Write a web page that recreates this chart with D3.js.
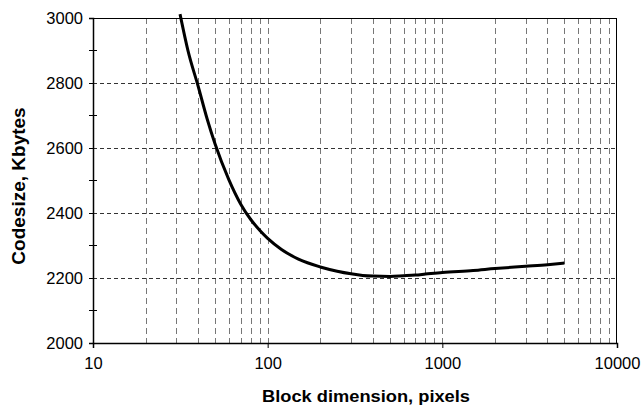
<!DOCTYPE html>
<html>
<head>
<meta charset="utf-8">
<script src="https://cdn.jsdelivr.net/npm/d3@7"></script>
<style>
  body { margin: 0; background: #fff; }
  svg text { font-family: "Liberation Sans", Arial, sans-serif; }
</style>
</head>
<body>
<script>
// block dimension (pixels) and codesize (Kbytes)
const blockDims = [31.5, 35, 40, 45, 50, 60, 70, 80, 90, 100, 120, 150, 200, 250, 300, 350, 400, 500, 600, 700, 800, 1000, 1500, 2000, 3000, 4000, 5000];
const codeSizes = [3012, 2899, 2790, 2690, 2612, 2502, 2428, 2380, 2347, 2322, 2288, 2258, 2234, 2221, 2213, 2208, 2206, 2205, 2207, 2209, 2212, 2217, 2223, 2229, 2236, 2241, 2246];

const yTicks = [2000, 2200, 2400, 2600, 2800, 3000];
const yMinorTicks = [2100, 2300, 2500, 2700, 2900];
const xTicks = [10, 100, 1000, 10000];
const yGrid = [2200, 2400, 2600, 2800];

const W = 644, H = 405;
const margin = {top: 18, right: 27, bottom: 62, left: 93};
const width = W - margin.left - margin.right,
      height = H - margin.top - margin.bottom;

const svg = d3.select("body").append("svg")
    .attr("width", W)
    .attr("height", H);

const g = svg.append("g")
    .attr("transform", `translate(${margin.left}, ${margin.top})`);

const x = d3.scaleLog().domain([10, 10000]).range([0, width]);
const y = d3.scaleLinear().domain([2000, 3000]).range([height, 0]);

// vertical grid at every minor decade step
const xGrid = [];
for (let d = 10; d < 10000; d *= 10) {
  for (let k = 2; k <= 10; k++) xGrid.push(d * k);
}
g.selectAll(".vgrid")
  .data(xGrid.filter(v => v < 10000))
  .enter().append("line")
    .attr("class", "vgrid")
    .attr("x1", d => Math.round(x(d)) + 0.5)
    .attr("x2", d => Math.round(x(d)) + 0.5)
    .attr("y1", 0)
    .attr("y2", height)
    .attr("stroke", "#777")
    .attr("stroke-width", 1)
    .attr("stroke-dasharray", "6,4");

g.selectAll(".hgrid")
  .data(yGrid)
  .enter().append("line")
    .attr("class", "hgrid")
    .attr("x1", 0)
    .attr("x2", width)
    .attr("y1", d => Math.round(y(d)) + 0.5)
    .attr("y2", d => Math.round(y(d)) + 0.5)
    .attr("stroke", "#333")
    .attr("stroke-width", 1)
    .attr("stroke-dasharray", "4,3");

// frame top and right
g.append("line").attr("x1", 0).attr("x2", width).attr("y1", 0.5).attr("y2", 0.5)
  .attr("stroke", "#000");
g.append("line").attr("x1", width - 0.5).attr("x2", width - 0.5).attr("y1", 0).attr("y2", height)
  .attr("stroke", "#000");

// y axis
const yAxis = g.append("g")
    .attr("class", "y_axis")
    .call(d3.axisLeft(y).tickValues(yTicks).tickSize(4).tickPadding(6).tickFormat(d3.format("d")));
yAxis.select(".domain").attr("stroke-width", 1.5);
yAxis.selectAll("text").attr("font-size", 16.5).attr("fill", "#000");

g.selectAll(".yminor")
  .data(yMinorTicks)
  .enter().append("line")
    .attr("x1", -4).attr("x2", 4)
    .attr("y1", d => y(d)).attr("y2", d => y(d))
    .attr("stroke", "#000");

// x axis
const xAxis = g.append("g")
    .attr("class", "x_axis")
    .attr("transform", `translate(0, ${height})`)
    .call(d3.axisBottom(x).tickValues(xTicks).tickSize(5).tickPadding(9).tickFormat(d3.format("d")));
xAxis.select(".domain").attr("stroke-width", 1.5);
xAxis.selectAll("text").attr("font-size", 16.5).attr("fill", "#000");

// curve
const line = d3.line()
    .x((d, i) => x(blockDims[i]))
    .y(d => y(d))
    .curve(d3.curveMonotoneX);

g.append("path")
    .datum(codeSizes)
    .attr("d", line)
    .attr("fill", "none")
    .attr("stroke", "#000")
    .attr("stroke-width", 3);

// titles
svg.append("text")
    .attr("x", 366)
    .attr("y", 402)
    .attr("text-anchor", "middle")
    .attr("font-size", 16)
    .attr("font-weight", "bold")
    .attr("textLength", 208)
    .attr("lengthAdjust", "spacingAndGlyphs")
    .text("Block dimension, pixels");

svg.append("text")
    .attr("transform", `translate(25, 186) rotate(-90)`)
    .attr("text-anchor", "middle")
    .attr("font-size", 19)
    .attr("font-weight", "bold")
    .text("Codesize, Kbytes");
</script>
</body>
</html>
